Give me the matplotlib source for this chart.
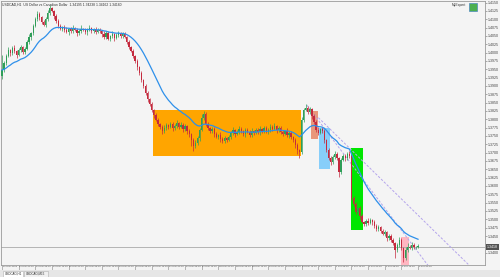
import matplotlib
matplotlib.use("Agg")
import matplotlib.pyplot as plt
import matplotlib.transforms as mtransforms
from matplotlib.patches import Rectangle
import numpy as np
import pandas as pd

plt.rcParams["font.family"] = ["Liberation Sans", "DejaVu Sans"]

# ---------------- data ----------------
chart_title = "USDCAD,H1  US Dollar vs Canadian Dollar  1.34195 1.34238 1.34162 1.34180"
expert_name = "MyExpert"
first_open = 1.3930
closes = [
    1.3948, 1.3969, 1.3990, 1.4008, 1.3999, 1.4014, 1.4005, 1.3993, 1.4008, 1.4017,
    1.4002, 1.4011, 1.4032, 1.4047, 1.4059, 1.4080, 1.4101, 1.4116, 1.4107, 1.4092,
    1.4083, 1.4101, 1.4119, 1.4134, 1.4125, 1.4110, 1.4095, 1.4080, 1.4071, 1.4077,
    1.4068, 1.4062, 1.4071, 1.4065, 1.4074, 1.4068, 1.4059, 1.4065, 1.4071, 1.4068,
    1.4062, 1.4068, 1.4074, 1.4065, 1.4071, 1.4062, 1.4068, 1.4065, 1.4056, 1.4047,
    1.4059, 1.4041, 1.4050, 1.4056, 1.4044, 1.4053, 1.4059, 1.4050, 1.4056, 1.4047,
    1.4032, 1.4017, 1.4005, 1.3990, 1.3975, 1.3957, 1.3939, 1.3918, 1.3900, 1.3879,
    1.3861, 1.3846, 1.3828, 1.3813, 1.3798, 1.3786, 1.3777, 1.3765, 1.3774, 1.3783,
    1.3777, 1.3786, 1.3774, 1.3780, 1.3789, 1.3777, 1.3783, 1.3771, 1.3780, 1.3765,
    1.3756, 1.3738, 1.3720, 1.3729, 1.3744, 1.3768, 1.3804, 1.3816, 1.3786, 1.3774,
    1.3765, 1.3771, 1.3756, 1.3747, 1.3753, 1.3741, 1.3735, 1.3744, 1.3738, 1.3747,
    1.3759, 1.3768, 1.3756, 1.3762, 1.3771, 1.3765, 1.3756, 1.3768, 1.3762, 1.3753,
    1.3765, 1.3759, 1.3768, 1.3762, 1.3771, 1.3765, 1.3774, 1.3762, 1.3768, 1.3777,
    1.3771, 1.3780, 1.3768, 1.3774, 1.3762, 1.3756, 1.3765, 1.3753, 1.3759, 1.3747,
    1.3738, 1.3723, 1.3708, 1.3702, 1.3798, 1.3828, 1.3834, 1.3822, 1.3831, 1.3810,
    1.3792, 1.3768, 1.3759, 1.3771, 1.3765, 1.3738, 1.3708, 1.3684, 1.3672, 1.3687,
    1.3696, 1.3684, 1.3642, 1.3678, 1.3690, 1.3684, 1.3696, 1.3690, 1.3564, 1.3546,
    1.3522, 1.3534, 1.3510, 1.3492, 1.3486, 1.3495, 1.3489, 1.3498, 1.3492, 1.3480,
    1.3471, 1.3477, 1.3465, 1.3456, 1.3462, 1.3444, 1.3450, 1.3438, 1.3429, 1.3408,
    1.3423, 1.3438, 1.3414, 1.3384, 1.3408, 1.3417, 1.3414, 1.3423, 1.3417, 1.3417,
    1.3420,
]
wick_up_pips = [
    45, 6, 5, 8, 4, 6, 9, 3, 5, 7,
    4, 6, 5, 8, 3, 6, 7, 9, 5, 4,
    6, 5, 8, 9, 4, 3, 6, 5, 7, 4,
    5, 8, 3, 6, 9, 4, 5, 7, 12, 4,
    6, 5, 8, 3, 4, 7, 5, 6, 4, 9,
    5, 6, 3, 8, 4, 5, 7, 4, 6, 5,
    4, 6, 3, 5, 4, 6, 3, 5, 4, 6,
    5, 4, 6, 3, 5, 7, 4, 6, 9, 5,
    4, 7, 5, 6, 8, 4, 9, 5, 6, 4,
    5, 3, 6, 8, 5, 7, 12, 10, 6, 5,
    4, 7, 5, 6, 4, 8, 5, 6, 4, 7,
    5, 9, 4, 6, 8, 5, 4, 7, 6, 5,
    8, 4, 6, 5, 9, 4, 7, 5, 6, 10,
    5, 8, 4, 6, 5, 7, 4, 9, 5, 6,
    4, 5, 6, 3, 8, 6, 12, 5, 7, 4,
    6, 5, 8, 4, 6, 5, 4, 6, 5, 7,
    8, 5, 4, 6, 5, 7, 6, 9, 4, 5,
    6, 4, 5, 7, 4, 6, 8, 5, 4, 6,
    5, 7, 4, 6, 5, 4, 7, 5, 6, 4,
    6, 9, 5, 4, 8, 12, 6, 10, 5, 4,
    5,
]
wick_down_pips = [
    10, 5, 7, 4, 8, 5, 6, 9, 4, 6,
    7, 5, 4, 6, 8, 5, 4, 6, 9, 5,
    4, 7, 5, 6, 4, 8, 5, 6, 4, 7,
    6, 4, 8, 5, 6, 4, 9, 5, 6, 4,
    5, 8, 4, 6, 5, 7, 4, 6, 8, 5,
    6, 4, 7, 5, 9, 4, 6, 5, 7, 4,
    5, 6, 4, 7, 5, 8, 6, 5, 7, 6,
    8, 5, 6, 9, 4, 7, 5, 8, 6, 5,
    6, 4, 8, 5, 7, 6, 4, 9, 5, 8,
    9, 18, 15, 6, 5, 8, 4, 6, 5, 7,
    6, 5, 8, 4, 7, 9, 6, 5, 7, 4,
    6, 5, 8, 4, 6, 7, 5, 8, 4, 6,
    5, 7, 4, 6, 8, 5, 6, 4, 7, 5,
    6, 4, 8, 5, 7, 6, 4, 6, 8, 5,
    7, 9, 12, 18, 5, 6, 4, 7, 5, 8,
    6, 5, 7, 4, 6, 8, 5, 7, 9, 6,
    5, 7, 15, 6, 4, 8, 5, 6, 5, 7,
    6, 5, 8, 4, 7, 5, 6, 4, 8, 5,
    6, 5, 7, 4, 6, 8, 5, 7, 6, 24,
    7, 5, 6, 12, 5, 7, 4, 6, 5, 7,
    4,
]
ma_period = 20
price_tick_top = 1.4150
price_tick_step = 0.0025
price_tick_count = 31
time_tick_every = 8
time_labels = [
    "21 May 2020", "22 May 00:00", "22 May 08:00", "22 May 16:00", "25 May 00:00",
    "25 May 08:00", "25 May 16:00", "26 May 00:00", "26 May 08:00", "26 May 16:00",
    "27 May 00:00", "27 May 08:00", "27 May 16:00", "28 May 00:00", "28 May 08:00",
    "28 May 16:00", "29 May 00:00", "29 May 08:00", "29 May 16:00", "1 Jun 00:00",
    "1 Jun 08:00", "1 Jun 16:00", "2 Jun 00:00", "2 Jun 08:00", "2 Jun 16:00",
    "3 Jun 00:00",
]
current_price = 1.3418
# zones: first bar, last bar, top price, bottom price, colour
zone_start = [72.5, 148.4, 152.5, 167.6, 191.8]
zone_end = [143.8, 152.1, 157.7, 173.4, 195.8]
zone_top = [1.3828, 1.3826, 1.3774, 1.3714, 1.3447]
zone_bottom = [1.3691, 1.3740, 1.3651, 1.3468, 1.3354]
zone_colors = ["#ffa500", "#e9967a", "#87cefa", "#00e600", "#ffb6c1"]
# trendlines: (bar, price) -> (bar, price)
trend_start = [(146.5, 1.3843), (152.1, 1.3805)]
trend_end = [(225.0, 1.3195), (232.0, 1.3317)]
tab_names = ["USDCAD,H1", "USDCAD,M15"]

# ---------------- figure ----------------
W, H = 500, 277
BG = "#f4f4f4"
fig = plt.figure(figsize=(W / 100, H / 100), dpi=100, facecolor=BG)
ax = fig.add_axes([1 / W, 1 - 265 / H, 484 / W, 264 / H])
ax.set_facecolor(BG)

n = len(closes)
idx = np.arange(n)
c = np.array(closes)
o = np.concatenate([[first_open], c[:-1]])
hi = np.maximum(o, c) + np.array(wick_up_pips) * 0.0001
lo = np.minimum(o, c) - np.array(wick_down_pips) * 0.0001

# zones
for x0, x1, t, b, col in zip(zone_start, zone_end, zone_top, zone_bottom, zone_colors):
    ax.add_patch(Rectangle((x0, b), x1 - x0, t - b, facecolor=col, edgecolor="none", zorder=1))

# horizontal current-price line
ax.axhline(current_price, color="#a9a9a9", lw=0.6, zorder=2)

# trendlines
for (xa, ya), (xb, yb) in zip(trend_start, trend_end):
    ax.plot([xa, xb], [ya, yb], color="#b4a4ec", lw=0.7, dashes=(2.5, 1.6), zorder=2)

# candles
bull = c >= o
col = np.where(bull, "#2f9e58", "#c42a3e")
ax.vlines(idx, lo, hi, colors=col, lw=0.5, zorder=3)
body_h = np.abs(c - o)
body_h = np.where(body_h < 0.00008, 0.00008, body_h)
ax.bar(idx, body_h, bottom=np.minimum(o, c), width=0.62, color=col, linewidth=0, zorder=3)

# moving average
ma = pd.Series(c).ewm(span=ma_period, adjust=False).mean()
ax.plot(idx, ma, color="#2e90ea", lw=0.9, zorder=4)

ax.set_xlim(-0.48, 232.2)
ax.set_ylim(1.3363, 1.4155)

# axes frame
for s in ax.spines.values():
    s.set_color("#9a9a9a")
    s.set_linewidth(0.6)

# price axis (right); the tick hidden under the current-price label is left blank
yt = [price_tick_top - k * price_tick_step for k in range(price_tick_count)]
ax.yaxis.tick_right()
ax.set_yticks(yt)
ax.set_yticklabels(["" if abs(v - current_price) < 0.0012 else f"{v:.4f}" for v in yt])
ax.tick_params(axis="y", direction="out", length=1.5, width=0.5, color="#8a8a8a",
               labelsize=2.6, labelcolor="#404040", pad=0.6)

# time axis (bottom)
xt = [k * time_tick_every for k in range(len(time_labels))]
ax.set_xticks(xt)
ax.set_xticklabels([])
ax.tick_params(axis="x", direction="out", length=4, width=0.5, color="#9a9a9a")
tr = mtransforms.blended_transform_factory(ax.transData, ax.transAxes)
off = mtransforms.ScaledTranslation(0.8 / 100, -0.8 / 100, fig.dpi_scale_trans)
for x, lab in zip(xt, time_labels):
    ax.text(x, 0, lab, transform=tr + off, ha="left", va="top", fontsize=1.75, color="#404040")

# current price label
trp = mtransforms.blended_transform_factory(ax.transAxes, ax.transData)
ax.text(1.004, current_price, f"{current_price:.4f}", transform=trp, ha="left", va="center",
        fontsize=2.6, color="white",
        bbox=dict(boxstyle="square,pad=0.25", facecolor="#505050", edgecolor="none"))

# title and expert label
ax.text(0.003, 0.993, chart_title, transform=ax.transAxes, ha="left", va="top",
        fontsize=2.4, color="#303030")
ax.text(0.962, 0.993, expert_name, transform=ax.transAxes, ha="right", va="top",
        fontsize=2.4, color="#303030")
ax.add_patch(Rectangle((0.966, 0.962), 0.017, 0.03, transform=ax.transAxes,
                       facecolor="#4caf50", edgecolor="#3a78c8", lw=0.4, zorder=6))

# bottom tab bar
fig.add_artist(Rectangle((0, 0), 1, 7 / H, transform=fig.transFigure,
                         facecolor="#e6e6e6", edgecolor="none"))
tab_x = [3, 24]
tab_w = [20, 24]
for k, (tx, tw, name) in enumerate(zip(tab_x, tab_w, tab_names)):
    fig.add_artist(Rectangle((tx / W, 0.3 / H), tw / W, 6 / H, transform=fig.transFigure,
                             facecolor="white" if k == 0 else "#f0f0f0",
                             edgecolor="#b0b0b0", lw=0.4))
    fig.text((tx + 2) / W, 3.3 / H, name, fontsize=2.2, color="#303030", va="center", ha="left")

fig.savefig("out.png", dpi=100, facecolor=BG)
